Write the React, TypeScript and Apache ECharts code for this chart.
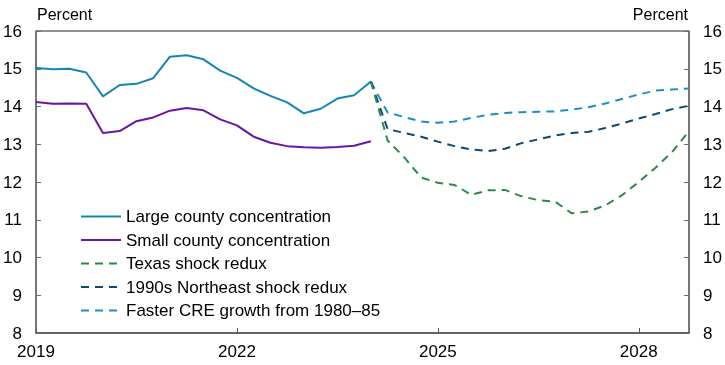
import React, { useEffect, useRef } from "react";
import * as echarts from "echarts";

const years = [2019, 2020, 2021, 2022, 2023, 2024, 2025, 2026, 2027, 2028];
const quarters: string[] = [];
years.forEach((y) => ["Q1", "Q2", "Q3", "Q4"].forEach((q) => quarters.push(`${y}${q}`)));

const labelledQuarters = ["2019Q1", "2022Q1", "2025Q1", "2028Q1"];
const yTicks = [8, 9, 10, 11, 12, 13, 14, 15, 16];

// Historical (2019Q1 - 2024Q1)
const largeCounty = [15.02, 14.99, 15.0, 14.9, 14.27, 14.57, 14.6, 14.75, 15.32, 15.36, 15.25, 14.95, 14.76, 14.48, 14.28, 14.11, 13.82, 13.94, 14.21, 14.3, 14.66];
const smallCounty = [14.12, 14.07, 14.08, 14.07, 13.3, 13.35, 13.61, 13.71, 13.89, 13.96, 13.9, 13.66, 13.5, 13.2, 13.04, 12.95, 12.92, 12.91, 12.93, 12.96, 13.08];

// Projections (2024Q1 - 2028Q4)
const texas = [14.66, 13.1, 12.65, 12.12, 11.98, 11.92, 11.66, 11.78, 11.79, 11.62, 11.52, 11.48, 11.17, 11.22, 11.38, 11.65, 12.0, 12.38, 12.8, 13.35];
const northeast = [14.66, 13.4, 13.3, 13.2, 13.07, 12.95, 12.86, 12.82, 12.88, 13.03, 13.13, 13.23, 13.3, 13.33, 13.43, 13.55, 13.68, 13.8, 13.93, 14.02];
const fasterCre = [14.66, 13.84, 13.72, 13.6, 13.57, 13.6, 13.7, 13.78, 13.83, 13.85, 13.86, 13.87, 13.92, 13.98, 14.08, 14.2, 14.32, 14.42, 14.45, 14.48];

const projStart = quarters.indexOf("2024Q1");

function historical(vals: number[]) {
  return quarters.map((_, i) => (i < vals.length ? vals[i] : null));
}
function projection(vals: number[]) {
  return quarters.map((_, i) => (i >= projStart && i - projStart < vals.length ? vals[i - projStart] : null));
}

const FONT = "'Liberation Sans', Arial, sans-serif";

export default function App() {
  const ref = useRef<HTMLDivElement>(null);
  useEffect(() => {
    if (!ref.current) return;
    const chart = echarts.init(ref.current, undefined, { renderer: "svg" });
    const axisLabelStyle = { color: "#000", fontSize: 17, fontFamily: FONT };
    const yAxisCommon = {
      type: "value",
      min: 8,
      max: 16,
      interval: 1,
      splitLine: { show: false },
      axisLine: { show: true, lineStyle: { color: "#6e6e6e", width: 1.5 } },
      axisTick: { show: true, inside: true, length: 5, lineStyle: { color: "#6e6e6e" } },
      axisLabel: { ...axisLabelStyle, margin: 14, formatter: (v: number) => (yTicks.includes(v) ? String(v) : "") },
    };
    const tickFilter = (_: number, v: string) => labelledQuarters.includes(v);
    const mkLine = (name: string, data: (number | null)[], color: string, dashed: boolean) => ({
      name,
      type: "line",
      data,
      symbol: "none",
      connectNulls: false,
      lineStyle: { color, width: 2, type: dashed ? [8, 6] : "solid" },
      itemStyle: { color },
    });
    chart.setOption({
      animation: false,
      textStyle: { fontFamily: FONT },
      grid: { left: 36, right: 36, top: 31, bottom: 32, show: true, borderColor: "#222", borderWidth: 1 },
      xAxis: {
        type: "category",
        data: quarters,
        boundaryGap: false,
        axisLine: { show: true, lineStyle: { color: "#555", width: 1.5 } },
        axisTick: { show: true, inside: true, length: 5, interval: tickFilter, lineStyle: { color: "#555" } },
        axisLabel: { ...axisLabelStyle, margin: 10, interval: tickFilter, formatter: (v: string) => v.slice(0, 4) },
        splitLine: { show: false },
      },
      yAxis: [
        { ...yAxisCommon, position: "left" },
        { ...yAxisCommon, position: "right" },
      ],
      legend: {
        orient: "vertical",
        left: 80,
        top: 208,
        padding: 0,
        itemWidth: 40,
        itemHeight: 18,
        itemGap: 6.5,
        itemStyle: { opacity: 0 },
        textStyle: { color: "#000", fontSize: 17, fontFamily: FONT },
        data: [
          "Large county concentration",
          "Small county concentration",
          "Texas shock redux",
          "1990s Northeast shock redux",
          "Faster CRE growth from 1980–85",
        ],
      },
      graphic: [
        { type: "text", left: 37, top: 6, style: { text: "Percent", fontSize: 16, fontFamily: FONT, fill: "#000" } },
        { type: "text", right: 37, top: 6, style: { text: "Percent", fontSize: 16, fontFamily: FONT, fill: "#000" } },
      ],
      series: [
        mkLine("Large county concentration", historical(largeCounty), "#1585b4", false),
        mkLine("Small county concentration", historical(smallCounty), "#6b14a6", false),
        mkLine("Faster CRE growth from 1980–85", projection(fasterCre), "#1b8fc4", true),
        mkLine("1990s Northeast shock redux", projection(northeast), "#0c4a72", true),
        mkLine("Texas shock redux", projection(texas), "#2a8a48", true),
      ],
    });
    return () => chart.dispose();
  }, []);
  return <div ref={ref} style={{ position: "fixed", left: 0, top: 0, width: 725, height: 365 }} />;
}
